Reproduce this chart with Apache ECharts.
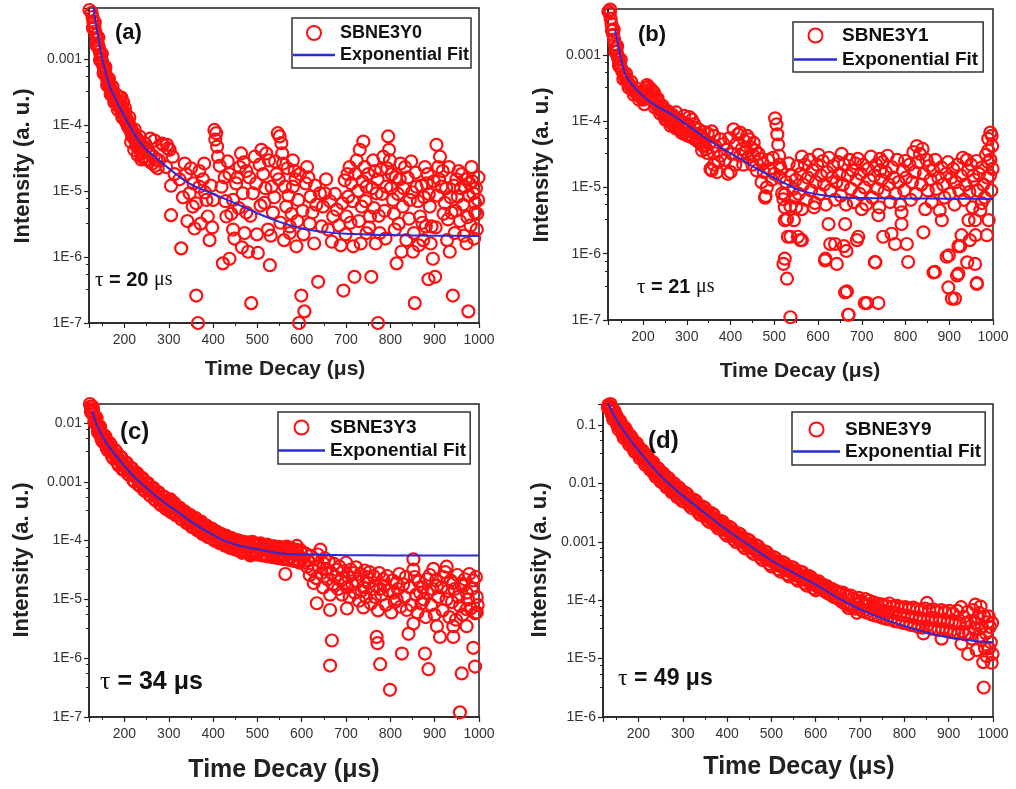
<!DOCTYPE html>
<html><head><meta charset="utf-8">
<script src="https://cdn.jsdelivr.net/npm/echarts@6/dist/echarts.min.js"></script>
<style>html,body{margin:0;padding:0;background:#fff}#c{width:1016px;height:789px}</style>
</head><body><div id="c"></div>
<script>
// ---------- data ----------
const sampleNames = ['SBNE3Y0', 'SBNE3Y1', 'SBNE3Y3', 'SBNE3Y9'];
const fitName = 'Exponential Fit';
const panelLetters = ['(a)', '(b)', '(c)', '(d)'];
const tauValues = [20, 21, 34, 49];
const xTicks = [200, 300, 400, 500, 600, 700, 800, 900, 1000];
const yRanges = [[1e-7, 5.9e-3], [1e-7, 4.9e-3], [1e-7, 0.021], [1e-6, 0.23]];

const decayA = [
[120,8.5e-3],[122,7.2e-3],[124,6.0e-3],[126,5.0e-3],[128,4.3e-3],[130,3.6e-3],[132,3.1e-3],[134,2.6e-3],[136,2.3e-3],[138,1.95e-3],[140,1.7e-3],[142,1.5e-3],[144,1.3e-3],[146,1.15e-3],[148,1.0e-3],[150,8.8e-4],[152,7.9e-4],[154,7.0e-4],[156,6.4e-4],[158,5.7e-4],[160,5.2e-4],[162,4.7e-4],[164,4.3e-4],[166,3.9e-4],[168,3.6e-4],[170,3.4e-4],[172,3.1e-4],[174,2.9e-4],[176,2.7e-4],[178,2.5e-4],[180,2.4e-4],[182,2.2e-4],[184,2.1e-4],[186,1.95e-4],[188,2.3e-4],[190,1.8e-4],[192,2.0e-4],[193,2.6e-4],[194,1.55e-4],[196,1.7e-4],[197,2.2e-4],[198,1.4e-4],[200,1.25e-4],[202,1.5e-4],[204,1.1e-4],[206,1.2e-4],[208,9.5e-5],[210,1.05e-4],[212,8.5e-5],[214,9.0e-5],[215,5.5e-5],[216,7.5e-5],[218,8.0e-5],[220,6.5e-5],[222,7.0e-5],[222,4.2e-5],[224,5.8e-5],[226,6.5e-5],[228,5.2e-5],[230,6.0e-5],[230,3.5e-5],[232,4.8e-5],[234,5.5e-5],[236,4.2e-5],[238,5.0e-5],[238,3.0e-5],[240,3.8e-5],[242,4.6e-5],[245,3.3e-5],[248,4.4e-5],[251,3.0e-5],[254,4.0e-5],[257,2.8e-5],[258,6.2e-5],[260,3.6e-5],[263,2.6e-5],[266,3.3e-5],[268,5.8e-5],[269,2.4e-5],[272,3.0e-5],[275,2.2e-5],[278,2.9e-5],[285,5.2e-5],[296,5.0e-5],[302,4.2e-5],
[121,5.5e-3],[125,7.5e-3],[129,2.9e-3],[133,3.6e-3],[137,1.6e-3],[141,2.1e-3],[145,9.5e-4],[149,1.2e-3],[153,6e-4],[157,7.5e-4],[161,4e-4],[165,5e-4],[169,2.9e-4],[173,3.8e-4],[177,2.2e-4],[181,2.9e-4],[185,1.7e-4],[189,2.6e-4],[195,1.3e-4],[201,1.8e-4],[207,1e-4],[211,1.3e-4],[217,6.8e-5],[223,8.5e-5],[229,4.5e-5],[235,6.6e-5],[241,3.2e-5],[247,5.2e-5],
[287,5e-5],[298,4.4e-5],[309,3.3e-5],[294,2.3e-5],[313,1.8e-5],[324,1.5e-5],[305,1.2e-5],[336,2.6e-5],[339,1.8e-5],[305,4.3e-6],[328,1.35e-6],
[347,9.2e-6],[354,5.8e-6],[358,2.7e-6],[362,2.6e-7],[366,1.0e-7],[369,2e-5],[377,1.5e-5],[385,7.3e-6],[388,4.1e-6],[392,1.8e-6],[369,1.16e-5],[403,8.4e-5],[407,7.5e-5],[405,6e-5],[409,4.7e-5],[411,3.3e-5],[415,2.4e-5],[400,7.3e-6],[419,1.16e-5],
[422,8e-7],[437,9.4e-7],[430,4.1e-6],[445,7.3e-6],[437,1.8e-5],[452,1.3e-5],[460,2.3e-5],[467,9.2e-6],[471,2.3e-6],[445,2.6e-6],[475,2e-5],[475,4.7e-6],[463,3.7e-5],
[479,1.2e-6],[486,2e-7],[490,9.2e-6],[494,3.3e-5],[501,1.15e-6],[509,4.2e-5],[513,1.8e-5],[516,6.6e-6],[524,2.6e-6],[528,7.5e-7],[520,3.7e-5],[532,1.16e-5],[535,4.7e-6],
[546,7.5e-5],[550,6.7e-5],[554,5.3e-5],[556,3.7e-5],[558,2.6e-5],[543,1.8e-5],[562,1.16e-5],[565,5.8e-6],[573,2.9e-6],[580,2.9e-5],[584,2e-5],[592,7.3e-6],[580,1.16e-5],[588,1.45e-6],[573,2.3e-6],
[599,2.6e-7],[606,1.5e-7],[594,1e-7],[612,2.3e-5],[609,1.3e-5],[620,8.2e-6],[624,4.7e-6],[637,4.2e-7],[628,1.6e-6],[641,9.2e-6],[648,5.8e-6],[652,9.2e-6],[645,2.9e-6],
[660,2.6e-6],[671,4.1e-6],[679,5.2e-6],[694,3.1e-7],[701,4.1e-6],[708,2.3e-5],[712,1.3e-5],[716,1.45e-6],[705,8.2e-6],[719,5e-7],[697,1.45e-5],
[724,2.9e-5],[731,4.2e-5],[739,5.6e-5],[742,2.3e-5],[746,1.16e-5],[735,5.8e-6],[746,2.3e-6],[757,5e-7],[761,2.9e-5],[765,2e-5],[769,9.2e-6],[772,1e-7],[754,4.1e-6],[776,2.3e-6],
[784,3.3e-5],[795,6.7e-5],[797,4.2e-5],[799,2.9e-5],[803,1.8e-5],[806,7.3e-6],[810,2.6e-6],[814,8e-7],[791,1.16e-5],[821,1.5e-5],[828,5.8e-6],[833,2.3e-5],[825,1.2e-6],[836,1.8e-6],
[844,7.3e-6],[855,2e-7],[851,1.2e-6],[859,1.16e-5],[867,4.1e-6],[874,1.8e-6],[882,1.3e-5],[886,4.6e-7],[889,5.8e-6],[893,2.9e-6],[878,2.3e-5],
[904,5e-5],[912,3.3e-5],[908,2.3e-5],[901,5e-7],[896,9.4e-7],[915,1.16e-5],[923,6.6e-6],[930,3.7e-6],[934,1.2e-6],[941,2.6e-7],[945,2.3e-6],[949,1.5e-5],[952,8.2e-6],[938,4.7e-6],
[961,1.8e-5],[968,1.16e-5],[972,1.6e-6],[976,1.5e-7],[979,1.3e-5],[987,9.2e-6],[991,4.7e-6],[995,2.6e-6],[998,7.3e-6],[983,2.3e-5],[991,6.6e-6],
[332,8e-6],[342,3.5e-6],[350,2.2e-5],[356,1.3e-5],[362,6.5e-6],[372,3.2e-6],[380,2.6e-5],[382,9.5e-6],[395,1.2e-5],[398,2.8e-6],[426,1.6e-5],[428,7e-6],[433,2.8e-5],[441,4.5e-6],[448,1.9e-6],[455,1.6e-5],[458,5.5e-6],[465,1.4e-6],[469,2.7e-5],[482,1.6e-5],[484,4.2e-6],[497,1.3e-5],[499,2.2e-6],[505,2.5e-5],[507,6e-6],[518,1.1e-5],[526,2.9e-5],[530,2.1e-6],[538,8e-6],[540,2.8e-5],[548,1.5e-5],[552,3.3e-6],[560,1.8e-6],[568,2.2e-5],[570,8.5e-6],[577,4.5e-6],[586,1.5e-5],[590,3.5e-6],[596,1.8e-5],[602,5e-6],[604,2.2e-6],[615,1.6e-5],[618,3.2e-6],[630,1.2e-5],[633,6.2e-6],[655,1.5e-5],[664,7e-6],[668,1.7e-6],[675,9e-6],[684,3e-6],[688,1.5e-6],[692,6.5e-6],[699,2.2e-6],[703,1.8e-5],[710,3.3e-6],[715,7e-6],[721,1.8e-5],[727,1e-5],[729,3.5e-6],[733,1.6e-6],[737,1.4e-5],[744,7e-6],[750,1.8e-5],[752,2.8e-6],[759,1.1e-5],[763,5.5e-6],[767,1.6e-6],[771,1.5e-5],[774,4.2e-6],[779,2.1e-5],[781,9e-6],[787,5e-6],[789,1.9e-6],[793,2.2e-5],[801,1.1e-5],[808,4.5e-6],[812,1.6e-5],[817,9e-6],[819,3.2e-6],[823,2.6e-5],[830,1.1e-5],[839,1.6e-5],[842,3.8e-6],[847,2.8e-5],[849,9.5e-6],[853,2.3e-6],[857,1.9e-5],[862,7e-6],[864,1.5e-6],[870,1.2e-5],[872,3.3e-6],[876,8e-6],[880,2.9e-6],[884,1.8e-5],[887,9e-6],[891,1.6e-6],[898,1.4e-5],[902,2.8e-6],[906,8.5e-6],[910,1.5e-5],[918,2e-5],[920,4.5e-6],[926,1.1e-5],[928,1.8e-6],[932,2.3e-5],[936,8e-6],[943,1.2e-5],[947,5e-6],[954,2e-5],[957,3.5e-6],[959,1.1e-5],[964,6.2e-6],[966,2.1e-6],[970,1.5e-5],[974,4e-6],[977,8.5e-6],[981,3e-6],[985,1.4e-5],[989,1.9e-6],[993,1.1e-5],[996,4.5e-6],[999,1.6e-5]
];

const fitA = [[129,6.5e-3],[131,5.6e-3],[135,3.6e-3],[140,2.3e-3],[145,1.5e-3],[150,1.0e-3],[157,6.5e-4],[165,4.1e-4],[175,2.9e-4],[185,2.1e-4],[200,1.35e-4],[215,8.8e-5],[233,5.7e-5],[250,4.2e-5],[271,3.2e-5],[300,2.2e-5],[346,1.3e-5],[400,9e-6],[450,6.5e-6],[500,4.6e-6],[550,3.4e-6],[600,2.7e-6],[650,2.4e-6],[700,2.25e-6],[800,2.15e-6],[900,2.1e-6],[1000,2.08e-6]];

const decayB = [
[120,6.0e-3],[122,5.0e-3],[124,4.2e-3],[126,3.5e-3],[128,2.9e-3],[130,2.4e-3],[132,2.0e-3],[134,1.7e-3],[136,1.45e-3],[138,1.25e-3],[140,1.1e-3],[142,9.5e-4],[144,8.5e-4],[146,7.6e-4],[148,6.9e-4],[150,6.2e-4],[153,5.6e-4],[156,5.0e-4],[159,4.6e-4],[162,4.2e-4],[165,3.9e-4],[168,3.6e-4],[171,3.4e-4],[174,3.2e-4],[177,3.0e-4],[180,2.85e-4],[183,2.7e-4],[186,2.6e-4],[189,2.5e-4],[192,2.4e-4],[195,2.3e-4],[198,2.2e-4],[201,2.1e-4],[204,2.6e-4],[207,3.2e-4],[210,2.9e-4],[213,3.3e-4],[216,2.7e-4],[219,3.0e-4],[222,2.4e-4],[225,2.7e-4],[228,2.0e-4],[231,1.7e-4],[234,2.0e-4],[237,1.5e-4],[240,1.65e-4],[243,1.4e-4],[246,1.3e-4],[249,1.5e-4],[252,1.2e-4],[255,1.05e-4],[258,1.3e-4],[261,1.1e-4],[264,9.5e-5],[267,1.25e-4],[270,8.5e-5],[273,1.05e-4],[276,1.35e-4],[279,9e-5],[282,7.5e-5],[285,1.0e-4],[288,8e-5],[291,6.5e-5],[294,1.2e-4],[297,7.5e-5],[300,9e-5],[303,6e-5],[306,1.15e-4],[309,7e-5],[312,1.05e-4],[315,5.5e-5],[318,8e-5],[321,6.5e-5],[324,5e-5],[327,7.5e-5],[330,4.7e-5],[333,6e-5],[336,4.3e-5],[339,6.8e-5],[342,5.2e-5],[345,3.8e-5],[348,6.5e-5],[351,4.6e-5],
[121,4.5e-3],[125,4.8e-3],[129,2.3e-3],[133,2.4e-3],[137,1.1e-3],[141,1.35e-3],[145,6.8e-4],[149,8.5e-4],[155,4.3e-4],[161,5.2e-4],[167,3.2e-4],[173,3.9e-4],[179,2.5e-4],[185,3.1e-4],[191,2.1e-4],[197,2.7e-4],[203,1.8e-4],[209,3.5e-4],[215,2.3e-4],[221,2.8e-4],[227,1.6e-4],[233,2.2e-4],[239,1.3e-4],[245,1.7e-4],[251,1.05e-4],[257,1.4e-4],[263,8.5e-5],[269,1.15e-4],[275,7.8e-5],[281,1.05e-4],[287,6.8e-5],[293,9.5e-5],[299,6.2e-5],[305,8.5e-5],[311,5.8e-5],[317,9e-5],[323,5.5e-5],[329,6.2e-5],[335,3.6e-5],[341,4.2e-5],[347,3.3e-5],
[354,1.9e-5],[357,7e-5],[357,1.8e-5],[362,2.2e-5],[362,6e-5],[369,1.7e-5],[377,3e-5],[377,5.3e-5],[361,3.3e-5],[392,3.7e-5],[394,1.6e-5],[400,1.7e-5],[407,7.5e-5],[417,6.3e-5],[422,6.7e-5],[422,3e-5],[432,5e-5],[438,6e-5],[440,2.8e-5],[447,4e-5],[453,4.7e-5],[453,3e-5],[468,2.7e-5],[471,1.2e-5],[476,1.7e-5],[479,7e-6],[480,7.4e-6],[483,1e-5],
[502,1.1e-4],[505,8.9e-5],[507,6.3e-5],[509,4.4e-5],[511,3e-5],[512,2.2e-5],[513,1.4e-5],[518,8.1e-6],[521,6.6e-6],[524,7.8e-6],[524,5e-6],[529,3.3e-6],[524,3.2e-6],[531,1.8e-6],[521,7e-7],[529,4.2e-7],[524,8.4e-7],[537,1.1e-7],[537,1.8e-6],[537,5.2e-6],[545,3.2e-6],[550,5e-6],[554,1.8e-6],[560,1.6e-6],[548,7e-6],
[365,4.2e-5],[372,2.4e-5],[384,4.5e-5],[388,2.6e-5],[397,5.5e-5],[404,3.2e-5],[411,2.2e-5],[414,4.6e-5],[426,3.8e-5],[429,2.2e-5],[435,3.4e-5],[443,5.3e-5],[450,2.2e-5],[457,3.6e-5],[460,1.8e-5],[464,3.2e-5],[474,2.3e-5],[486,2.6e-5],[490,1.9e-5],[494,1.3e-5],[497,2.8e-5],[500,1.6e-5],[515,1.9e-5],[527,1.2e-5],[533,2.3e-5],[540,1.5e-5],[543,9.5e-6],
[563,2.9e-5],[601,3.1e-5],[654,3.2e-5],[685,2.3e-5],[742,2.7e-5],[742,1.8e-5],[799,2.5e-5],[826,4.2e-5],[833,3.2e-5],[848,2.6e-5],[905,1.4e-5],[940,2.6e-5],[955,1.5e-5],[989,5.4e-5],[989,3.6e-5],[989,2.4e-5],[993,1.5e-5],[997,6e-5],[994,6.7e-5],[998,4.2e-5],[994,2.6e-5],
[563,1.6e-6],[616,7.9e-7],[639,1.4e-6],[643,7e-7],[665,1.1e-6],[692,1.8e-6],[730,7.5e-7],[749,1.8e-6],[776,1.4e-6],[803,1.4e-6],[806,7.5e-7],[662,2.6e-7],[707,1.8e-7],[738,1.8e-7],[669,1.2e-7],[841,2.1e-6],[867,5.3e-7],[894,9e-7],[898,3.1e-7],[913,2.1e-7],[921,1.3e-6],[921,5e-7],[928,1.9e-6],[947,1.6e-6],[959,3.2e-6],[959,7e-7],[963,3.6e-7],[986,1.9e-6],[990,3.2e-6],[563,4.7e-6],[593,5.8e-6],[624,2.8e-6],[662,2.8e-6],[700,4.7e-6],[738,3.8e-6],[768,2.0e-6],[791,4.2e-6],[791,2.8e-6],[845,4.7e-6],[883,3.2e-6],[944,3.2e-6],[974,5.8e-6],
[617,8.4e-7],[628,1.4e-6],[659,1.3e-6],[666,2.7e-7],[670,1.2e-7],[689,1.6e-6],[712,1.8e-7],[731,7.4e-7],[864,5.2e-7],[906,2.1e-7],[899,9.4e-7],[918,4.7e-7],[925,1.3e-6],[941,7.4e-7],[963,3.5e-7],[960,1.9e-6],
[549,1.3e-5],[553,2.1e-5],[556,8e-6],[560,1.6e-5],[566,1.1e-5],[570,2.2e-5],[573,6.5e-6],[577,1.4e-5],[581,2.6e-5],[584,9e-6],[588,1.8e-5],[591,5e-6],[595,1.2e-5],[598,2.2e-5],[604,8e-6],[607,1.5e-5],[611,2.5e-5],[614,1.1e-5],[618,5.5e-6],[621,1.7e-5],[625,2.8e-5],[628,9e-6],[632,1.4e-5],[635,2.1e-5],[639,6.5e-6],[642,1.2e-5],[646,2.4e-5],[649,1.6e-5],[652,7.5e-6],[657,1.1e-5],[660,2.2e-5],[664,5.5e-6],[668,1.5e-5],[672,2.6e-5],[675,9.5e-6],[679,1.8e-5],[682,6e-6],[688,1.3e-5],[691,2.7e-5],[695,8e-6],[698,1.6e-5],[703,2.2e-5],[706,1e-5],[710,5.5e-6],[714,1.9e-5],[717,1.3e-5],[721,2.9e-5],[724,7e-6],[728,1.5e-5],[733,2.2e-5],[736,9.5e-6],[740,5e-6],[745,1.3e-5],[748,2.4e-5],[752,8.5e-6],[755,1.7e-5],[759,3e-5],[762,1.1e-5],[765,6e-6],[770,2e-5],[773,1.4e-5],[777,8e-6],[781,2.6e-5],[784,1.2e-5],[788,5.5e-6],[794,1.8e-5],[797,9e-6],[801,1.4e-5],[809,2.2e-5],[812,6.5e-6],[815,1.2e-5],[818,3.4e-5],[821,1.7e-5],[824,8e-6],[829,2.4e-5],[836,1.1e-5],[839,3.8e-5],[842,1.6e-5],[851,9e-6],[854,2.1e-5],[857,1.3e-5],[860,6e-6],[863,1.8e-5],[868,2.6e-5],[871,9.5e-6],[875,1.4e-5],[878,4.5e-6],[882,2e-5],[886,1.1e-5],[889,7e-6],[893,1.6e-5],[897,2.4e-5],[901,8e-6],[909,1.9e-5],[912,5.5e-6],[915,1.2e-5],[919,2.2e-5],[923,9e-6],[927,1.5e-5],[931,2.8e-5],[934,6.5e-6],[937,1.1e-5],[943,1.8e-5],[946,8.5e-6],[950,2.2e-5],[953,5e-6],[957,1.3e-5],[962,2.5e-5],[965,9e-6],[968,1.6e-5],[971,4.5e-6],[975,2e-5],[978,1.1e-5],[981,7e-6],[984,3.1e-5],[987,1.4e-5],[996,9e-6],[999,1.9e-5]
];

const fitB = [[136,2.4e-3],[140,1.8e-3],[150,8.5e-4],[159,5.2e-4],[170,3.9e-4],[189,2.8e-4],[210,2.1e-4],[230,1.7e-4],[265,1.26e-4],[300,8.8e-5],[342,5.6e-5],[380,3.9e-5],[418,2.8e-5],[455,2e-5],[494,1.45e-5],[530,1.1e-5],[560,9e-6],[600,7.8e-6],[650,7.1e-6],[700,6.9e-6],[800,6.8e-6],[900,6.75e-6],[1000,6.7e-6]];

const decayC = [
[120,2.4e-2],[122,2.1e-2],[124,1.9e-2],[126,1.7e-2],[128,1.55e-2],[130,1.4e-2],[132,1.25e-2],[134,1.15e-2],[136,1.05e-2],[138,9.5e-3],[140,8.8e-3],[142,8.0e-3],[144,7.4e-3],[146,6.9e-3],[148,6.4e-3],[150,6.0e-3],[152,5.6e-3],[154,5.3e-3],[156,5.0e-3],[158,4.7e-3],[160,4.5e-3],[162,4.3e-3],[164,4.0e-3],[166,3.8e-3],[168,3.6e-3],[170,3.45e-3],[172,3.3e-3],[174,3.15e-3],[176,3.0e-3],[178,2.9e-3],[180,2.8e-3],[183,2.6e-3],[186,2.45e-3],[189,2.3e-3],[192,2.15e-3],[195,2.05e-3],[198,1.95e-3],[201,1.85e-3],[204,1.75e-3],[207,1.65e-3],[210,1.55e-3],[213,1.5e-3],[216,1.4e-3],[219,1.35e-3],[222,1.28e-3],[225,1.2e-3],[228,1.15e-3],[231,1.1e-3],[234,1.04e-3],[237,9.9e-4],[240,9.4e-4],[243,9.0e-4],[246,8.5e-4],[249,8.1e-4],[252,7.8e-4],[255,7.5e-4],[258,7.1e-4],[261,6.8e-4],[264,6.5e-4],[267,6.2e-4],[270,5.9e-4],[273,5.7e-4],[276,5.5e-4],[279,5.2e-4],[282,5.0e-4],[285,4.8e-4],[288,4.6e-4],[291,4.4e-4],[294,4.3e-4],[297,4.1e-4],[300,4.0e-4],[302,4.6e-4],[304,5.0e-4],[306,4.5e-4],[309,3.8e-4],[312,3.6e-4],[315,3.5e-4],[318,3.4e-4],[321,3.2e-4],[324,3.1e-4],[327,3.0e-4],[330,2.85e-4],[333,2.75e-4],[336,2.6e-4],[339,2.5e-4],[342,2.45e-4],[345,2.35e-4],[348,2.25e-4],[351,2.15e-4],[354,2.1e-4],[357,2.0e-4],[360,1.95e-4],[363,1.85e-4],[366,1.8e-4],[369,1.75e-4],[372,1.4e-4],[375,1.65e-4],[378,1.6e-4],[381,1.55e-4],[384,1.5e-4],[387,1.45e-4],[390,1.4e-4],[393,1.35e-4],[396,1.35e-4],[399,1.3e-4],[402,1.25e-4],[405,1.2e-4],[408,1.2e-4],[411,1.15e-4],[414,1.1e-4],[417,1.1e-4],[420,1.05e-4],[423,1.05e-4],[426,1.0e-4],[429,9.8e-5],[432,1.1e-4],[435,9.5e-5],[438,9.2e-5],[441,1.0e-4],[444,8.8e-5],[447,8.6e-5],[450,9.5e-5],[453,8.3e-5],[456,7.5e-5],[459,8.8e-5],[462,8e-5],[465,6.2e-5],[468,8.5e-5],[471,7.6e-5],[474,9.0e-5],[477,7.2e-5],[480,8.2e-5],[483,6.5e-5],[484,5.6e-5],[486,7.8e-5],[489,9.5e-5],[492,7e-5],[495,8.5e-5],[498,6.3e-5],[501,8e-5],[504,7.2e-5],[507,9e-5],[510,6.8e-5],[513,7.8e-5],[516,6e-5],[519,7.4e-5],[522,8.5e-5],[525,6.5e-5],[528,7.2e-5],[531,5.8e-5],[534,7.8e-5],[537,6.5e-5],[540,7.2e-5],[543,5.5e-5],[546,6.8e-5],[549,7.8e-5],[552,6.2e-5],[555,7e-5],[558,5.6e-5],[563,2.7e-5],[561,6.6e-5],[566,7.9e-5],[569,6e-5],[572,6.8e-5],[575,5.2e-5],[578,7.2e-5],[581,6e-5],[584,4.8e-5],[587,6.6e-5],[589,8.1e-5],[592,5.5e-5],[595,4.4e-5],[598,6.2e-5],
[121,0.028],[125,0.015],[129,0.017],[133,0.01],[137,0.012],[141,0.0068],[145,0.0085],[151,0.0048],[157,0.0059],[163,0.0034],[169,0.0043],[175,0.0025],[181,0.0033],[187,0.0019],[193,0.0026],[199,0.0016],[205,0.0021],[211,0.0013],[217,0.0017],[223,0.001],[229,0.0014],[235,0.00085],[241,0.00115],[247,0.0007],[253,0.00095],[259,0.00058],[265,0.00079],[271,0.00048],[277,0.00066],[283,0.0004],[289,0.00056],[295,0.00034],[301,0.00049],[307,0.0003],[313,0.00043],[319,0.00027],[325,0.00036],[331,0.00023],[337,0.00031],[343,0.0002],[349,0.00027],[355,0.00017],[361,0.00024],[367,0.00015],[373,0.00021],[379,0.00013],[385,0.00018],[391,0.000115],[397,0.00016],[403,0.0001],[409,0.00014],[415,9e-5],[421,0.000125],[427,8.2e-5],[433,0.000115],[439,7.5e-5],[445,0.000105],[451,7e-5],[457,0.0001],[463,6.6e-5],[469,9.4e-5],[475,6.3e-5],[481,9.2e-5],[487,6e-5],[493,8.8e-5],[499,5.8e-5],[505,8.6e-5],[511,5.6e-5],[517,8.3e-5],[523,5.4e-5],[529,8e-5],[535,5.2e-5],[541,7.8e-5],[547,5e-5],[553,7.6e-5],[559,4.9e-5],[565,7.4e-5],[571,4.7e-5],[577,7.1e-5],[583,4.5e-5],[589,6.9e-5],[595,4.2e-5],
[124,0.016],[128,0.019],[132,0.0105],[136,0.0125],[140,0.0072],[144,0.0088],[148,0.0053],[154,0.0062],[160,0.0037],[166,0.0046],[172,0.0027],[178,0.0035],[184,0.0021],[190,0.0027],[196,0.0016],[202,0.0021],[208,0.00135],[214,0.0017],[220,0.00105],[226,0.00135],[232,0.00088],[238,0.00112],[244,0.00072],[250,0.00093],[256,0.0006],[262,0.00077],[268,0.0005],[274,0.00065],[280,0.00042],[286,0.00056],[292,0.00036],[298,0.00047],[304,0.00031],[310,0.0004],[316,0.00027],[322,0.00035],[328,0.00023],[334,0.0003],[340,0.0002],[346,0.00026],[352,0.00017],[358,0.00023],[364,0.00015],[370,0.0002],[376,0.00013],[382,0.00018],[388,0.000115],[394,0.00016],[400,0.000105],[406,0.000145],[412,9.5e-5],[418,0.00013],[424,8.6e-5],[430,0.00012],[436,7.8e-5],[442,0.00011],[448,7.3e-5],[454,0.000102],[460,6.8e-5],[466,9.6e-5],[472,6.4e-5],[478,9.2e-5],[484,6.1e-5],[490,8.8e-5],[496,5.9e-5],[502,8.6e-5],[508,5.7e-5],[514,8.4e-5],[520,5.5e-5],[526,8.2e-5],[532,5.3e-5],[538,8e-5],[544,5.1e-5],[550,7.7e-5],[556,4.9e-5],[562,7.5e-5],[568,4.8e-5],[574,7.3e-5],[580,4.6e-5],[586,7e-5],[592,4.4e-5],[598,6.8e-5],
[612,3.6e-5],[627,1.9e-5],[634,8.6e-6],[642,7e-5],[649,4.1e-5],[664,6.6e-6],[664,1.2e-5],[702,7e-6],[668,2.0e-6],[664,7.5e-7],[769,2.3e-6],[771,1.8e-6],[777,7.9e-7],[799,2.9e-7],[826,1.2e-6],[841,2.6e-6],[878,1.2e-6],[886,6.5e-7],[852,4.8e-5],[852,3.2e-5],[897,3.3e-5],[927,3.6e-5],[942,1.9e-5],[957,7.7e-6],[961,5.5e-7],[957,1.2e-7],[987,2.1e-5],[991,5.8e-6],[987,1.5e-6],[991,7.2e-7],[912,2.3e-6],[942,2.3e-6],[852,3.9e-6],[905,3.5e-6],[972,3.5e-6],[972,6.8e-6],[739,7.3e-6],[739,1.6e-5],[777,1.5e-5],[814,1e-5],[814,1.9e-5],[837,6.6e-6],[875,1e-5],[905,1.7e-5],[927,1e-5],[942,3.5e-6],[972,1.3e-5],[702,1.6e-5],[717,2.8e-5],[679,3.2e-5],[747,2.4e-5],[784,2.2e-5],[807,1.3e-5],[867,1.3e-5],[882,2.2e-5],[920,2.4e-5],[965,1.7e-5],[995,1.1e-5],[995,6e-6],
[603,5e-5],[606,4.2e-5],[609,6e-5],[615,4.6e-5],[618,2.6e-5],[621,5.5e-5],[624,3.2e-5],[630,4.8e-5],[633,2.3e-5],[636,5.8e-5],[639,3.6e-5],[645,2.8e-5],[648,1.6e-5],[652,5e-5],[655,3.3e-5],[658,2.2e-5],[661,4.4e-5],[667,2.8e-5],[670,1.8e-5],[673,4e-5],[676,2.4e-5],[682,1.5e-5],[685,3.6e-5],[688,2.1e-5],[691,1.2e-5],[694,3e-5],[697,1.9e-5],[700,4.2e-5],[705,2.4e-5],[708,1.1e-5],[711,3.2e-5],[714,1.8e-5],[720,1.3e-5],[723,3.5e-5],[726,2e-5],[729,9.5e-6],[732,2.7e-5],[735,1.4e-5],[742,3.1e-5],[745,1.1e-5],[750,1.9e-5],[753,2.9e-5],[756,8.5e-6],[759,1.5e-5],[762,2.5e-5],[765,1.1e-5],[768,1.7e-5],[772,6.5e-6],[775,2.8e-5],[780,1.2e-5],[787,1.7e-5],[790,8e-6],[793,2.5e-5],[796,1.4e-5],[802,6e-6],[805,2.1e-5],[810,9e-6],[817,1.5e-5],[820,2.7e-5],[823,7.5e-6],[829,1.8e-5],[832,1.1e-5],[835,2.4e-5],[844,1.6e-5],[847,8e-6],[855,2.4e-5],[858,1.2e-5],[861,6e-6],[864,2e-5],[870,8.5e-6],[873,1.6e-5],[880,5e-6],[884,1.3e-5],[889,2.6e-5],[892,8e-6],[895,1.5e-5],[900,5.5e-6],[903,2.1e-5],[908,1.1e-5],[915,1.6e-5],[918,6.5e-6],[924,2.9e-5],[930,1.4e-5],[933,5e-6],[936,2.1e-5],[939,9e-6],[945,1.5e-5],[948,4.5e-6],[951,2.6e-5],[954,1.1e-5],[960,1.8e-5],[963,5.5e-6],[968,2.2e-5],[975,1e-5],[978,2.7e-5],[981,7e-6],[984,1.5e-5],[993,2.4e-5],[997,8e-6]
];

const fitC = [[127,1.6e-2],[135,1.05e-2],[145,7e-3],[160,4.5e-3],[180,2.8e-3],[200,1.85e-3],[225,1.15e-3],[250,7.8e-4],[275,5.4e-4],[300,3.9e-4],[325,2.9e-4],[350,2.1e-4],[375,1.6e-4],[400,1.25e-4],[425,1.0e-4],[450,8.6e-5],[475,7.7e-5],[500,7.1e-5],[550,6.1e-5],[600,5.8e-5],[650,5.7e-5],[700,5.65e-5],[800,5.6e-5],[900,5.6e-5],[1000,5.6e-5]];

const decayD = [
[120,0.34],[123,0.29],[126,0.27],[127,0.3],[129,0.24],[132,0.22],[133,0.19],[135,0.21],[138,0.18],[139,0.2],[141,0.17],[144,0.15],[145,0.135],[147,0.14],[150,0.13],[151,0.14],[153,0.115],[156,0.108],[157,0.095],[159,0.097],[162,0.09],[163,0.1],[165,0.083],[168,0.076],[169,0.07],[171,0.071],[174,0.066],[175,0.072],[177,0.061],[180,0.058],[181,0.052],[183,0.053],[186,0.05],[187,0.054],[189,0.046],[192,0.044],[193,0.04],[195,0.041],[198,0.039],[199,0.042],[201,0.036],[204,0.034],[205,0.031],[207,0.032],[210,0.03],[211,0.033],[213,0.028],[216,0.027],[217,0.025],[219,0.025],[222,0.0235],[223,0.026],[225,0.022],[228,0.021],[229,0.019],[231,0.0195],[234,0.0185],[235,0.02],[237,0.0175],[240,0.0165],[241,0.015],[243,0.0155],[246,0.0147],[247,0.0155],[249,0.014],[252,0.0132],[253,0.0122],[255,0.0126],[258,0.012],[259,0.013],[261,0.0114],[264,0.0108],[265,0.0102],[267,0.0103],[270,0.0098],[271,0.0105],[273,0.0094],[276,0.0089],[277,0.0084],[279,0.0085],[282,0.0081],[283,0.0085],[285,0.0078],[288,0.0074],[289,0.0068],[291,0.0071],[294,0.0068],[295,0.0072],[297,0.0065],[300,0.0062],
[125,0.37],[131,0.2],[137,0.23],[143,0.125],[149,0.15],[155,0.085],[161,0.107],[167,0.06],[173,0.08],[179,0.046],[185,0.061],[191,0.035],[197,0.048],[203,0.027],[209,0.037],[215,0.021],[221,0.029],[227,0.017],[233,0.023],[239,0.013],[245,0.018],[251,0.0106],[257,0.0146],[263,0.0086],[269,0.012],[275,0.0071],[281,0.0099],[287,0.0059],[293,0.0083],[299,0.005],[310,0.0066],[320,0.0038],[330,0.005],[340,0.0029],[350,0.0038],[360,0.0022],[370,0.0029],[380,0.0017],[390,0.0022],[400,0.00128],[410,0.0017],[420,0.001],[430,0.00134],[440,0.00078],[450,0.00106],[460,0.00062],[470,0.00084],[480,0.00049],[490,0.00066],[500,0.00038],[510,0.00052],[520,0.00031],[530,0.00043],[540,0.000256],[550,0.00036],[560,0.000216],[570,0.0003],[580,0.000178],[590,0.000244],[600,0.000148],
[128,0.24],[134,0.26],[140,0.15],[146,0.175],[152,0.1],[158,0.12],[164,0.07],[170,0.089],[176,0.053],[182,0.066],[188,0.04],[194,0.05],[200,0.031],[206,0.038],[212,0.024],[218,0.031],[224,0.0187],[230,0.0236],[236,0.0145],[242,0.0186],[248,0.0116],[254,0.0152],[260,0.0096],[266,0.0126],[272,0.0079],[278,0.0103],[284,0.0066],[290,0.0086],[296,0.0055],[305,0.007],[315,0.0042],[325,0.0053],[335,0.0032],[345,0.004],[355,0.0024],[365,0.0031],[375,0.0019],[385,0.0023],[395,0.0014],[405,0.0018],[415,0.0011],[425,0.0014],[435,0.00086],[445,0.0011],[455,0.00068],[465,0.00088],[475,0.00054],[485,0.00069],[495,0.00042],[505,0.00055],[515,0.00034],[525,0.00045],[535,0.00028],[545,0.00037],[555,0.000235],[565,0.00031],[575,0.000195],[585,0.00026],[595,0.00016],
[303,6.3e-3],[306,5.5e-3],[309,5.7e-3],[312,5.0e-3],[315,5.3e-3],[318,4.6e-3],[321,4.9e-3],[324,4.2e-3],[327,4.5e-3],[330,3.9e-3],[333,4.1e-3],[336,3.6e-3],[339,3.8e-3],[342,3.3e-3],[345,3.5e-3],[348,3.0e-3],[351,3.2e-3],[354,2.8e-3],[357,2.95e-3],[360,2.6e-3],[363,2.75e-3],[366,2.4e-3],[369,2.5e-3],[372,2.2e-3],[375,2.35e-3],[378,2.05e-3],[381,2.15e-3],[384,1.9e-3],[387,2.0e-3],[390,1.75e-3],[393,1.85e-3],[396,1.6e-3],[399,1.7e-3],[402,1.5e-3],[405,1.58e-3],[408,1.4e-3],[411,1.47e-3],[414,1.3e-3],[417,1.36e-3],[420,1.2e-3],[423,1.27e-3],[426,1.12e-3],[429,1.17e-3],[432,1.04e-3],[435,1.09e-3],[438,9.6e-4],[441,1.01e-3],[444,8.9e-4],[447,9.4e-4],[450,8.4e-4],[453,8.8e-4],[456,7.8e-4],[459,8.2e-4],[462,7.3e-4],[465,7.6e-4],[468,6.8e-4],[471,7.1e-4],[474,6.3e-4],[477,6.6e-4],[480,5.9e-4],[483,6.2e-4],[486,5.5e-4],[489,5.8e-4],[492,5.1e-4],[495,5.35e-4],[498,4.8e-4],[501,5.0e-4],[504,4.5e-4],[507,4.7e-4],[510,4.2e-4],[513,4.45e-4],[516,4.0e-4],[519,4.2e-4],[522,3.75e-4],[525,3.95e-4],[528,3.55e-4],[531,3.75e-4],[534,3.35e-4],[537,3.55e-4],[540,3.15e-4],[543,3.35e-4],[546,3.0e-4],[549,3.15e-4],[552,2.8e-4],[555,2.98e-4],[558,2.65e-4],[561,2.82e-4],[564,2.5e-4],[567,2.68e-4],[570,2.37e-4],[573,2.55e-4],[576,2.25e-4],[579,2.42e-4],[582,2.12e-4],[585,2.3e-4],[588,2.0e-4],[591,2.18e-4],[594,1.9e-4],[597,2.05e-4],[600,1.8e-4],
[602,2.0e-4],[604,1.7e-4],[607,2.1e-4],[610,1.6e-4],[613,1.9e-4],[616,1.5e-4],[619,1.8e-4],[622,1.4e-4],[625,1.75e-4],[628,1.3e-4],[631,1.6e-4],[634,1.25e-4],[637,1.55e-4],[640,1.15e-4],[643,1.45e-4],[646,1.1e-4],[649,1.4e-4],[652,1.05e-4],[655,1.3e-4],[658,9.5e-5],[661,1.35e-4],[664,9e-5],[667,1.25e-4],[670,8.5e-5],[674,7.4e-5],[673,1.15e-4],[676,8.2e-5],[679,1.2e-4],[682,7.8e-5],[685,1.05e-4],[688,7.2e-5],[691,1.0e-4],[693,6.1e-5],[694,8.5e-5],[697,1.1e-4],[700,7e-5],[703,9.5e-5],[706,6.5e-5],[709,8.8e-5],[712,1.05e-4],[715,6.2e-5],[718,8.2e-5],[721,9.8e-5],[724,5.8e-5],[727,7.8e-5],[730,9.2e-5],[733,5.5e-5],[736,7.4e-5],[739,8.8e-5],[742,5.3e-5],[745,7e-5],[748,8.5e-5],[751,5e-5],[754,6.6e-5],[757,8.2e-5],[760,4.8e-5],[763,6.3e-5],[766,8.8e-5],[769,4.7e-5],[772,6.2e-5],[775,7.8e-5],[778,4.4e-5],[781,6e-5],[784,8e-5],[787,4.3e-5],[790,5.7e-5],[793,7.5e-5],[796,4.1e-5],[799,5.5e-5],[802,7.6e-5],[805,4e-5],[808,5.4e-5],[811,7.2e-5],[814,3.8e-5],[817,5.2e-5],[820,7.5e-5],[823,3.7e-5],[826,5e-5],[829,7e-5],[832,3.5e-5],[835,4.8e-5],[838,6.8e-5],[841,3.4e-5],[843,2.7e-5],[844,4.7e-5],[847,7.2e-5],[850,3.6e-5],[851,9e-5],[853,4.6e-5],[856,6.6e-5],[859,3.3e-5],[862,5e-5],[865,7e-5],[868,3.2e-5],[871,4.5e-5],[874,6.4e-5],[877,3.1e-5],[880,4.4e-5],[884,2.2e-5],[883,6.8e-5],[886,3.2e-5],[889,4.6e-5],[892,6.3e-5],[895,3e-5],[898,4.3e-5],[901,6.6e-5],[904,2.9e-5],[907,4.2e-5],[910,5.9e-5],[913,2.8e-5],[916,4.3e-5],[919,6.6e-5],[922,2.7e-5],[925,4e-5],[928,7.6e-5],[929,1.8e-5],[931,2.9e-5],[934,5.2e-5],[937,2.6e-5],[940,4e-5],[944,1.2e-5],[943,6.3e-5],[946,2.7e-5],[949,4.4e-5],[952,2.2e-5],[955,6.8e-5],[958,3.3e-5],[960,8.4e-5],[961,4.1e-5],[963,1.4e-5],[966,5e-5],[968,2.4e-5],[970,6e-5],[972,7.8e-5],[974,2.1e-5],[975,3.5e-5],[978,8.7e-6],[979,3.2e-6],[980,5.3e-5],[982,1.5e-5],[984,2.7e-5],[986,1.1e-5],[988,4.2e-5],[990,5.3e-5],[991,1.5e-5],[993,3.5e-5],[995,1.9e-5],[997,8.5e-6],[998,4.1e-5],[999,1.2e-5]
];

const fitD = [[130,0.24],[136,0.2],[150,0.125],[175,0.065],[200,0.037],[225,0.022],[250,0.0135],[275,0.009],[300,6.2e-3],[350,3.1e-3],[400,1.6e-3],[450,8.7e-4],[500,4.8e-4],[550,2.95e-4],[600,1.85e-4],[650,1.1e-4],[700,7e-5],[750,4.9e-5],[800,3.6e-5],[850,2.8e-5],[900,2.3e-5],[950,2.05e-5],[1000,1.9e-5]];

const decayData = [decayA, decayB, decayC, decayD];
const fitData = [fitA, fitB, fitC, fitD];

// ---------- layout ----------
const SANS = '"Liberation Sans", Arial, sans-serif';
const SERIF = '"Liberation Serif", "DejaVu Serif", serif';
const RED = '#ff1010';
const BLUE = '#2a2ad6';
const grids = [
  {left: 89, top: 8, width: 390, height: 315},
  {left: 608, top: 9, width: 385, height: 311},
  {left: 89, top: 404, width: 390, height: 313},
  {left: 603, top: 404, width: 390, height: 313}
];
const legendPos = [
  {left: 292, top: 18, padding: [6, 2, 4, 1], fs: 18, iw: 42, gap: 4},
  {left: 793, top: 22, padding: [4, 5, 3, 1], fs: 19, iw: 43, gap: 5},
  {left: 278, top: 412, padding: [6, 4, 4, 0], fs: 19, iw: 47, gap: 4},
  {left: 792, top: 412, padding: [8, 4, 4, 1], fs: 19, iw: 47, gap: 3}
];
const letterPos = [[115, 33, 22], [638, 35, 22], [120, 432, 24], [648, 441, 24]];
const tauPos = [[95, 280, 20, false], [637, 287, 20, false], [100, 682, 25, true], [618, 679, 23, true]];
const yTitlePos = [[23, 166, 22], [542, 165, 22], [22, 560, 22], [540, 560, 22]];
const xTitlePos = [[285, 369, 21], [800, 371, 21], [284, 770, 25], [799, 767, 25]];

function yFmt(v) {
  const l = Math.log10(v);
  const e = Math.round(l);
  if (Math.abs(l - e) > 1e-6) return '';
  if (e >= -3) return String(Number(Math.pow(10, e).toFixed(-e)));
  return '1E' + e;
}

const option = {
  animation: false,
  backgroundColor: '#fff',
  grid: grids.map(g => Object.assign({show: true, borderColor: '#222', borderWidth: 1.5, backgroundColor: 'transparent'}, g)),
  xAxis: grids.map((g, i) => ({
    type: 'value', gridIndex: i, min: 120, max: 1000, minInterval: 100, maxInterval: 100,
    axisLine: {show: true, lineStyle: {color: '#222', width: 1.5}},
    axisTick: {show: true, inside: false, length: 5, lineStyle: {color: '#222', width: 1.2}},
    minorTick: {show: true, splitNumber: 2, length: 3, lineStyle: {color: '#222', width: 1}},
    splitLine: {show: false},
    axisLabel: {show: true, margin: 10, color: '#333', fontSize: 14, fontFamily: SANS, showMinLabel: false,
      formatter: v => (xTicks.indexOf(Math.round(v)) >= 0 && Math.abs(v - Math.round(v)) < 1e-6) ? String(Math.round(v)) : ''}
  })),
  yAxis: grids.map((g, i) => ({
    type: 'log', logBase: 10, gridIndex: i, min: yRanges[i][0], max: yRanges[i][1],
    axisLine: {show: true, lineStyle: {color: '#222', width: 1.5}},
    axisTick: {show: true, inside: false, length: 5, lineStyle: {color: '#222', width: 1.2}},
    minorTick: {show: true, splitNumber: 4, length: 3, lineStyle: {color: '#222', width: 1}},
    splitLine: {show: false},
    axisLabel: {show: true, margin: 7, color: '#333', fontSize: 14, fontFamily: SANS, formatter: yFmt}
  })),
  legend: legendPos.map((p, i) => ({
    data: [
      {name: sampleNames[i], icon: 'circle'},
      {name: fitName, icon: 'path://M0,0L40,0L40,2.2L0,2.2Z'}
    ],
    orient: 'vertical', left: p.left, top: p.top, symbolKeepAspect: true,
    padding: p.padding, itemWidth: p.iw, itemHeight: 14, itemGap: p.gap, selectedMode: false,
    borderColor: '#333', borderWidth: 1.5, backgroundColor: '#fff',
    textStyle: {fontSize: p.fs, fontWeight: 'bold', color: '#111', fontFamily: SANS}
  })),
  series: [],
  graphic: []
};

decayData.forEach((d, i) => {
  option.series.push({
    type: 'scatter', name: sampleNames[i], xAxisIndex: i, yAxisIndex: i, data: d,
    symbol: 'circle', symbolSize: 12, clip: true, z: 2,
    itemStyle: {color: 'rgba(255,255,255,0)', borderColor: RED, borderWidth: 2.2, opacity: 1}
  });
  option.series.push({
    type: 'line', name: fitName, xAxisIndex: i, yAxisIndex: i, data: fitData[i],
    smooth: 0.35, symbol: 'none', clip: true, z: 3,
    itemStyle: {color: BLUE},
    lineStyle: {color: BLUE, width: 2}
  });
});

letterPos.forEach((p, i) => option.graphic.push({
  type: 'text', x: p[0], y: p[1], z: 100,
  style: {text: panelLetters[i], fill: '#111', font: 'bold ' + p[2] + 'px ' + SANS, verticalAlign: 'middle'}
}));
tauPos.forEach((p, i) => option.graphic.push({
  type: 'text', x: p[0], y: p[1], z: 100,
  style: {
    text: '{t|τ}{b| = ' + tauValues[i] + ' }{m|μs}', verticalAlign: 'middle',
    rich: {
      t: {fontFamily: SERIF, fontSize: p[2] + 1, fill: '#111', verticalAlign: 'middle'},
      b: {fontFamily: SANS, fontWeight: 'bold', fontSize: p[2], fill: '#111', verticalAlign: 'middle'},
      m: {fontFamily: p[3] ? SANS : SERIF, fontWeight: p[3] ? 'bold' : 'normal', fontSize: p[2], fill: '#111', verticalAlign: 'middle'}
    }
  }
}));
yTitlePos.forEach(p => option.graphic.push({
  type: 'text', x: p[0], y: p[1], rotation: Math.PI / 2, z: 100,
  style: {text: 'Intensity (a. u.)', fill: '#222', font: 'bold ' + p[2] + 'px ' + SANS, align: 'center', verticalAlign: 'middle'}
}));
xTitlePos.forEach(p => option.graphic.push({
  type: 'text', x: p[0], y: p[1], z: 100,
  style: {text: 'Time Decay (μs)', fill: '#222', font: 'bold ' + p[2] + 'px ' + SANS, align: 'center', verticalAlign: 'middle'}
}));

const chart = echarts.init(document.getElementById('c'), null, {renderer: 'canvas'});
chart.setOption(option);
</script>
</body></html>
